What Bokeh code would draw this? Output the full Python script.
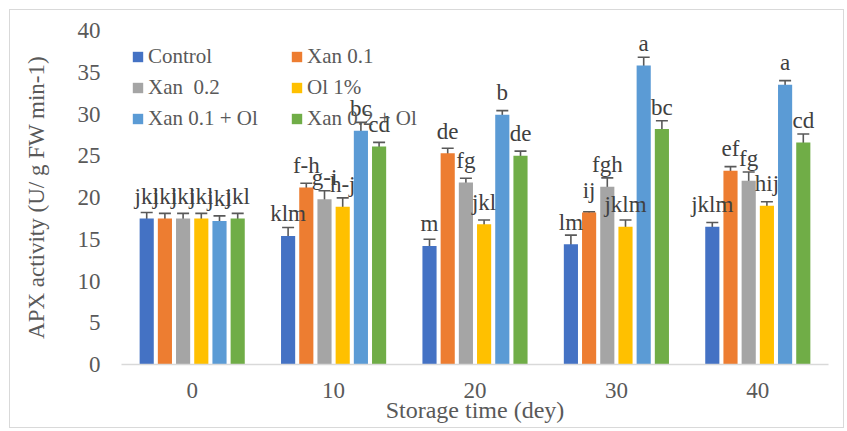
from bokeh.plotting import figure
from bokeh.models import (ColumnDataSource, FactorRange, Whisker, TeeHead,
                          Legend, LegendItem)
from bokeh.transform import dodge
from bokeh.core.properties import value
from bokeh.embed import file_html
from bokeh.resources import INLINE

days = ["0", "10", "20", "30", "40"]
series = ["Control", "Xan 0.1", "Xan  0.2", "Ol 1%", "Xan 0.1 + Ol", "Xan 0.2 + Ol"]
colors = ["#4472C4", "#ED7D31", "#A5A5A5", "#FFC000", "#5B9BD5", "#70AD47"]

control = [17.5, 15.4, 14.2, 14.4, 16.5]
xan01 = [17.5, 21.2, 25.3, 18.2, 23.2]
xan02 = [17.5, 19.8, 21.8, 21.3, 22.0]
ol1 = [17.5, 18.9, 16.8, 16.5, 19.0]
xan01_ol = [17.2, 28.0, 29.9, 35.8, 33.5]
xan02_ol = [17.5, 26.1, 25.0, 28.2, 26.6]

err_control = [0.7, 1.0, 0.8, 1.1, 0.5]
err_xan01 = [0.6, 0.5, 0.6, 0.1, 0.5]
err_xan02 = [0.6, 1.0, 0.5, 1.05, 1.05]
err_ol1 = [0.6, 1.05, 0.5, 0.8, 0.5]
err_xan01_ol = [0.6, 1.0, 0.5, 1.0, 0.5]
err_xan02_ol = [0.6, 0.5, 0.55, 1.0, 1.0]

lab_control = ["jkl", "klm", "m", "lm", "jklm"]
lab_xan01 = ["jkl", "f-h", "de", "ij", "ef"]
lab_xan02 = ["jkl", "g-i", "fg", "fgh", "fg"]
lab_ol1 = ["jkl", "h-j", "jkl", "jklm", "hij"]
lab_xan01_ol = ["jkl", "bc", "b", "a", "a"]
lab_xan02_ol = ["jkl", "cd", "de", "bc", "cd"]

vals = [control, xan01, xan02, ol1, xan01_ol, xan02_ol]
errs = [err_control, err_xan01, err_xan02, err_ol1, err_xan01_ol, err_xan02_ol]
labs = [lab_control, lab_xan01, lab_xan02, lab_ol1, lab_xan01_ol, lab_xan02_ol]

FONT = "Liberation Serif"
GRAY = "#595959"

p = figure(x_range=FactorRange(*days), y_range=(0, 40),
           width=835, height=419, output_backend="svg", toolbar_location=None,
           min_border_left=111, min_border_right=17, min_border_top=20,
           min_border_bottom=65, outline_line_color=None,
           styles={"border": "1px solid #d9d9d9", "margin-left": "9px",
                   "margin-top": "9px"})

pitch = 0.1287
bar_w = 0.1
renderers = []
sources = []
for j in range(6):
    off = (j - 2.5) * pitch
    src = ColumnDataSource(dict(
        day=days, v=vals[j],
        up=[a + b for a, b in zip(vals[j], errs[j])],
        lo=[a - b for a, b in zip(vals[j], errs[j])],
        lab=labs[j]))
    sources.append(src)
    r = p.vbar(x=dodge("day", off, range=p.x_range), top="v", width=bar_w,
               source=src, fill_color=colors[j], line_color=None)
    renderers.append(r)

for j in range(6):
    off = (j - 2.5) * pitch
    src = sources[j]
    w = Whisker(source=src, base=dodge("day", off, range=p.x_range),
                upper="up", lower="lo", line_color=GRAY, line_width=1.6,
                upper_head=TeeHead(size=12, line_color=GRAY, line_width=1.6),
                lower_head=TeeHead(size=12, line_color=GRAY, line_width=1.6))
    p.add_layout(w)

for j in range(6):
    off = (j - 2.5) * pitch
    src = sources[j]
    p.text(x=dodge("day", off, range=p.x_range), y="v", text="lab", source=src,
           y_offset=-22, text_align="center", text_baseline="alphabetic",
           text_font=value(FONT), text_font_size="23px", text_color="#404040",
           level="overlay")

p.xgrid.grid_line_color = None
p.ygrid.grid_line_color = None

p.yaxis.axis_line_color = None
p.yaxis.major_tick_line_color = None
p.yaxis.minor_tick_line_color = None
p.yaxis.major_tick_out = 0
p.yaxis.major_label_standoff = 21
p.yaxis.ticker = [0, 5, 10, 15, 20, 25, 30, 35, 40]
p.yaxis.axis_label = "APX activity (U/ g FW min-1)"
p.yaxis.axis_label_standoff = 26

p.xaxis.axis_line_color = "#d9d9d9"
p.xaxis.axis_line_width = 1.5
p.xaxis.major_tick_line_color = None
p.xaxis.minor_tick_line_color = None
p.xaxis.major_tick_out = 0
p.xaxis.major_label_standoff = 18
p.xaxis.axis_label = "Storage time (dey)"
p.xaxis.axis_label_standoff = -4

for ax in (p.xaxis[0], p.yaxis[0]):
    ax.major_label_text_font = FONT
    ax.major_label_text_font_size = "23px"
    ax.major_label_text_color = GRAY
    ax.axis_label_text_font = FONT
    ax.axis_label_text_font_style = "normal"
    ax.axis_label_text_color = GRAY
p.xaxis.axis_label_text_font_size = "24px"
p.yaxis.axis_label_text_font_size = "23px"


def make_legend(idx, loc):
    lg = Legend(items=[LegendItem(label=series[i], renderers=[renderers[i]]) for i in idx],
                location=loc, orientation="vertical",
                glyph_width=13, glyph_height=13, label_standoff=4,
                label_height=22, spacing=6, padding=0, margin=0,
                border_line_color=None, background_fill_alpha=0,
                label_text_font=FONT, label_text_font_size="21px",
                label_text_color=GRAY)
    p.add_layout(lg, "center")


make_legend([0, 2, 4], (10, 233))
make_legend([1, 3, 5], (169, 233))

open("out.html", "w").write(file_html(p, INLINE))
